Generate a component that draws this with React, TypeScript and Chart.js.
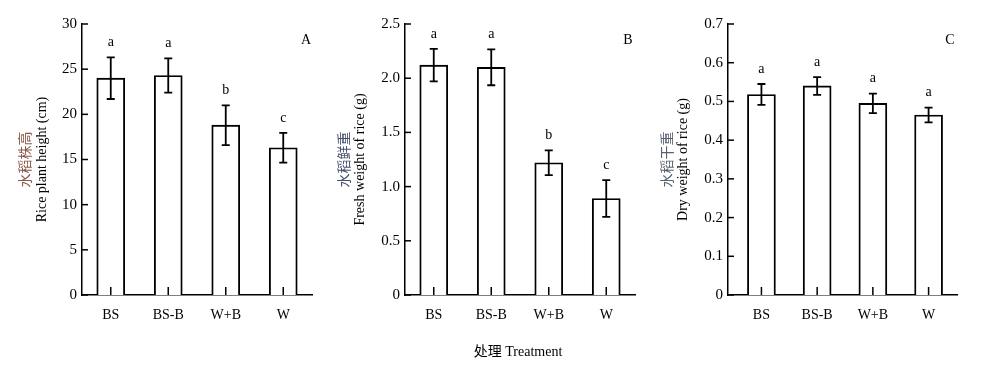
import React, { useEffect, useRef } from 'react';
import { Chart, registerables } from 'chart.js';

Chart.register(...registerables);

// ---------------- data ----------------
const categories = ['BS', 'BS-B', 'W+B', 'W'];

const heightMean = [24.0, 24.3, 18.8, 16.3];
const heightErr = [2.3, 1.9, 2.2, 1.65];
const heightLetters = ['a', 'a', 'b', 'c'];
const heightTicks = [0, 5, 10, 15, 20, 25, 30];

const freshMean = [2.12, 2.1, 1.22, 0.89];
const freshErr = [0.15, 0.165, 0.115, 0.17];
const freshLetters = ['a', 'a', 'b', 'c'];
const freshTicks = [0, 0.5, 1.0, 1.5, 2.0, 2.5];

const dryMean = [0.518, 0.54, 0.495, 0.465];
const dryErr = [0.027, 0.023, 0.025, 0.019];
const dryLetters = ['a', 'a', 'a', 'a'];
const dryTicks = [0, 0.1, 0.2, 0.3, 0.4, 0.5, 0.6, 0.7];

const xTitle = ['处理', 'Treatment'];

// ---------------- styling / layout ----------------
const SERIF = '"Liberation Serif", "Times New Roman", "Noto Sans CJK SC", serif';
const CJK = '"Noto Sans CJK SC", "Liberation Serif", sans-serif';
const W = 1000;
const H = 370;
const TOP = 24;
const BOTTOM = 295;

type PanelCfg = {
  mean: number[];
  err: number[];
  letters: string[];
  ticks: number[];
  decimals: number;
  titleZh: string;
  titleEn: string;
  zhColor: string;
  tag: string;
  left: number;
  right: number;
  xMin: number;
  xMax: number;
  zhX: number;
  enX: number;
  tagX: number;
  showXTitle: boolean;
};

const panels: PanelCfg[] = [
  {
    mean: heightMean, err: heightErr, letters: heightLetters, ticks: heightTicks, decimals: 0,
    titleZh: '水稻株高', titleEn: 'Rice plant height (cm)', zhColor: '#8a5646', tag: 'A',
    left: 82, right: 312, xMin: -0.5, xMax: 3.5, zhX: 25, enX: 42, tagX: 306, showXTitle: false,
  },
  {
    mean: freshMean, err: freshErr, letters: freshLetters, ticks: freshTicks, decimals: 1,
    titleZh: '水稻鲜重', titleEn: 'Fresh weight of rice (g)', zhColor: '#44506c', tag: 'B',
    left: 405, right: 635, xMin: -0.5, xMax: 3.5, zhX: 344, enX: 360, tagX: 628, showXTitle: true,
  },
  {
    mean: dryMean, err: dryErr, letters: dryLetters, ticks: dryTicks, decimals: 1,
    titleZh: '水稻干重', titleEn: 'Dry weight of rice (g)', zhColor: '#586274', tag: 'C',
    left: 728, right: 957, xMin: -0.6, xMax: 3.51, zhX: 667, enX: 683, tagX: 950, showXTitle: false,
  },
];

function Panel({ cfg }: { cfg: PanelCfg }) {
  const ref = useRef<HTMLCanvasElement | null>(null);

  useEffect(() => {
    if (!ref.current) return;
    const yMax = cfg.ticks[cfg.ticks.length - 1];

    const decor = {
      id: 'decor',
      afterDatasetsDraw(chart: any) {
        const { ctx } = chart;
        const xs = chart.scales.x;
        const ys = chart.scales.y;
        const area = chart.chartArea;
        ctx.save();
        ctx.strokeStyle = '#000';
        ctx.fillStyle = '#000';

        // inward x ticks at category centres
        ctx.lineWidth = 1.5;
        cfg.mean.forEach((_, i) => {
          const px = xs.getPixelForValue(i);
          ctx.beginPath();
          ctx.moveTo(px, area.bottom);
          ctx.lineTo(px, area.bottom - 8);
          ctx.stroke();
        });
        // inward y ticks
        cfg.ticks.forEach((v) => {
          const py = ys.getPixelForValue(v);
          ctx.beginPath();
          ctx.moveTo(area.left, py);
          ctx.lineTo(area.left + 6, py);
          ctx.stroke();
        });

        // error bars + letters
        ctx.lineWidth = 1.8;
        cfg.mean.forEach((m, i) => {
          const px = xs.getPixelForValue(i);
          const yt = ys.getPixelForValue(m + cfg.err[i]);
          const yb = ys.getPixelForValue(m - cfg.err[i]);
          ctx.beginPath();
          ctx.moveTo(px, yt);
          ctx.lineTo(px, yb);
          ctx.moveTo(px - 4, yt);
          ctx.lineTo(px + 4, yt);
          ctx.moveTo(px - 4, yb);
          ctx.lineTo(px + 4, yb);
          ctx.stroke();

          ctx.font = `14px ${SERIF}`;
          ctx.textAlign = 'center';
          ctx.textBaseline = 'middle';
          ctx.fillText(cfg.letters[i], px, yt - 15);
        });

        // panel tag
        ctx.font = `14px ${SERIF}`;
        ctx.textAlign = 'center';
        ctx.textBaseline = 'middle';
        ctx.fillText(cfg.tag, cfg.tagX, 40);

        // y axis titles (two lines, rotated)
        const cy = (area.top + area.bottom) / 2;
        ctx.save();
        ctx.translate(cfg.zhX, cy);
        ctx.rotate(-Math.PI / 2);
        ctx.fillStyle = cfg.zhColor;
        ctx.font = `14px ${CJK}`;
        ctx.fillText(cfg.titleZh, 0, 0);
        ctx.restore();

        ctx.save();
        ctx.translate(cfg.enX, cy);
        ctx.rotate(-Math.PI / 2);
        ctx.fillStyle = '#000';
        ctx.font = `14px ${SERIF}`;
        ctx.fillText(cfg.titleEn, 0, 0);
        ctx.restore();

        if (cfg.showXTitle) {
          ctx.font = `14px ${SERIF}`;
          ctx.fillStyle = '#000';
          ctx.textAlign = 'center';
          ctx.fillText(xTitle.join(' '), 518, 352);
        }
        ctx.restore();
      },
    };

    const chart = new Chart(ref.current, {
      type: 'bar',
      data: {
        datasets: [
          {
            data: cfg.mean.map((v, i) => ({ x: i, y: v })),
            backgroundColor: '#ffffff',
            borderColor: '#000000',
            borderWidth: 1.9,
            barThickness: 28,
          } as any,
        ],
      },
      options: {
        responsive: false,
        animation: false,
        devicePixelRatio: 1,
        layout: { padding: { left: 0, top: TOP, right: W - cfg.right, bottom: 0 } },
        plugins: { legend: { display: false }, tooltip: { enabled: false }, title: { display: false } },
        scales: {
          x: {
            type: 'linear',
            offset: false,
            min: cfg.xMin,
            max: cfg.xMax,
            grid: { display: false, drawTicks: false, offset: false },
            border: { display: true, color: '#000', width: 1.5 },
            afterBuildTicks: (s: any) => {
              s.ticks = categories.map((_, i) => ({ value: i }));
            },
            afterFit: (s: any) => {
              s.height = H - BOTTOM;
            },
            ticks: {
              autoSkip: false,
              maxRotation: 0,
              padding: 12,
              color: '#000',
              font: { family: SERIF, size: 14 },
              callback: (v: any) => categories[v as number] ?? '',
            },
          },
          y: {
            type: 'linear',
            min: 0,
            max: yMax,
            grid: { display: false, drawTicks: false },
            border: { display: true, color: '#000', width: 1.5 },
            afterBuildTicks: (s: any) => {
              s.ticks = cfg.ticks.map((v) => ({ value: v }));
            },
            afterFit: (s: any) => {
              s.width = cfg.left;
            },
            ticks: {
              padding: 5,
              color: '#000',
              font: { family: SERIF, size: 15 },
              callback: (v: any) => (v === 0 ? '0' : Number(v).toFixed(cfg.decimals)),
            },
          },
        },
      } as any,
      plugins: [decor],
    });
    return () => chart.destroy();
  }, [cfg]);

  return (
    <canvas
      ref={ref}
      width={W}
      height={H}
      style={{ position: 'absolute', left: 0, top: 0, width: W, height: H }}
    />
  );
}

export default function App() {
  return (
    <div
      style={{
        position: 'fixed',
        left: 0,
        top: 0,
        width: W,
        height: H,
        background: '#fff',
        overflow: 'hidden',
      }}
    >
      {panels.map((p) => (
        <Panel key={p.tag} cfg={p} />
      ))}
    </div>
  );
}
